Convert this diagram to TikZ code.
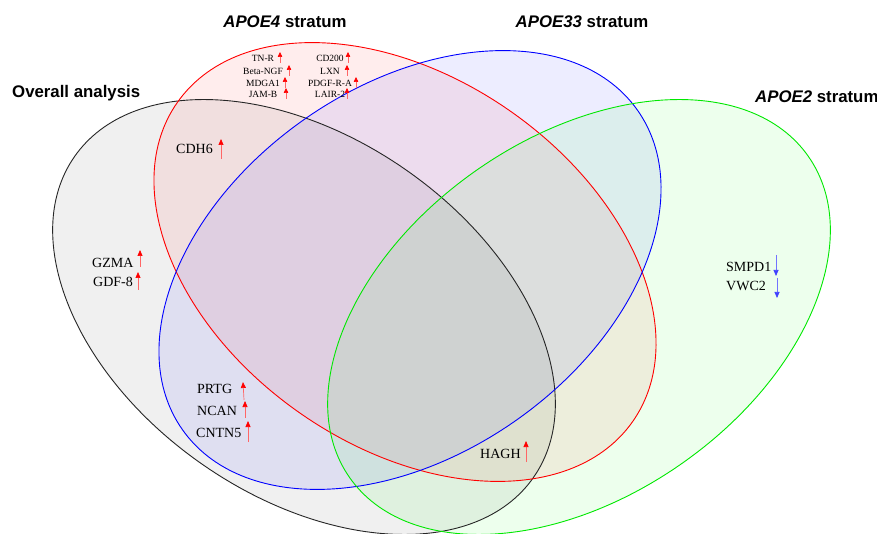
\documentclass[tikz,border=0pt]{standalone}
\usepackage{fontspec}
\setmainfont{Liberation Serif}
\newfontfamily\headfont{Liberation Sans}
\usetikzlibrary{arrows.meta}

\begin{document}
\begin{tikzpicture}[x=1pt, y=-1pt,
  gene/.style={font=\fontsize{14}{16}\selectfont, inner sep=0pt, anchor=west},
  tinygene/.style={font=\fontsize{9.5}{11}\selectfont, inner sep=0pt},
  stratum/.style={font=\headfont\bfseries\fontsize{16.8}{20}\selectfont, inner sep=0pt},
  uparr/.style={draw=red!60, line width=0.7pt, -{Triangle[width=5pt, length=6pt, color=red]}},
  tinyarr/.style={draw=red!60, line width=0.6pt, -{Triangle[width=4.5pt, length=5pt, color=red]}},
  downarr/.style={draw=blue!55, line width=0.7pt, -{Triangle[width=5pt, length=6pt, color=blue!75]}}]
  % Define colors
  \colorlet{overallline}{black!85}
  \colorlet{eline}{red}
  \colorlet{ethreeline}{blue}
  \colorlet{etwoline}{green!85!black!60!green}

  % Page frame
  \useasboundingbox (0,0) rectangle (877,534);
  \clip (0,0) rectangle (877,534);
  \fill[white] (0,0) rectangle (877,534);

  % Draw the shaded sets
  \fill[black, fill opacity=0.06] (304,317) ellipse [x radius=280pt, y radius=179pt, rotate=-35];
  \fill[red, fill opacity=0.07] (405,262) ellipse [x radius=278pt, y radius=184pt, rotate=-35];
  \fill[blue, fill opacity=0.07] (410,270) ellipse [x radius=278pt, y radius=184pt, rotate=35];
  \fill[green, fill opacity=0.07] (579,317) ellipse [x radius=280pt, y radius=179pt, rotate=35];

  % Outlines
  \draw[overallline, line width=0.9pt] (304,317) ellipse [x radius=280pt, y radius=179pt, rotate=-35];
  \draw[eline, line width=0.9pt] (405,262) ellipse [x radius=278pt, y radius=184pt, rotate=-35];
  \draw[ethreeline, line width=0.9pt] (410,270) ellipse [x radius=278pt, y radius=184pt, rotate=35];
  \draw[etwoline, line width=0.9pt] (579,317) ellipse [x radius=280pt, y radius=179pt, rotate=35];

  % Set titles
  \node[stratum] (apoefour) at (285,22) {\textit{APOE4} stratum};
  \node[stratum] (apoethreethree) at (582,22) {\textit{APOE33} stratum};
  \node[stratum, anchor=west] (overall) at (12,93) {Overall analysis};
  \node[stratum, anchor=west] (apoetwo) at (755,97) {\textit{APOE2} stratum};

  % APOE4 only
  \node[tinygene] (tnr) at (263,58) {TN-R};
  \node[tinygene] (betangf) at (263,71) {Beta-NGF};
  \node[tinygene] (mdga) at (263,83) {MDGA1};
  \node[tinygene] (jamb) at (263,94) {JAM-B};
  \node[tinygene] (cdtwo) at (330,58) {CD200};
  \node[tinygene] (lxn) at (330,71) {LXN};
  \node[tinygene] (pdgfra) at (330,83) {PDGF-R-A};
  \node[tinygene] (lair) at (330,94) {LAIR-2};
  \draw[tinyarr] (280,63) -- (280,52);
  \draw[tinyarr] (289,76) -- (289,65);
  \draw[tinyarr] (285,88) -- (285,77);
  \draw[tinyarr] (286,99) -- (286,88);
  \draw[tinyarr] (348,63) -- (348,52);
  \draw[tinyarr] (347,76) -- (347,65);
  \draw[tinyarr] (356,88) -- (356,77);
  \draw[tinyarr] (347,99) -- (347,88);

  % Overall and APOE4
  \node[gene] (cdh) at (176,149) {CDH6};
  \draw[uparr] (221,159) -- (221,139);

  % Overall only
  \node[gene] (gzma) at (92,263) {GZMA};
  \node[gene] (gdf) at (93,282) {GDF-8};
  \draw[uparr] (140,267) -- (140,250);
  \draw[uparr] (138,290) -- (138,272);

  % Overall and APOE33
  \node[gene] (prtg) at (197,389) {PRTG};
  \node[gene] (ncan) at (197,411) {NCAN};
  \node[gene] (cntn) at (196,433) {CNTN5};
  \draw[uparr] (244,400) -- (243,382);
  \draw[uparr] (245,418) -- (245,401);
  \draw[uparr] (248,442) -- (248,421);

  % Overall, APOE4 and APOE2
  \node[gene] (hagh) at (480,454) {HAGH};
  \draw[uparr] (526,462) -- (526,441);

  % APOE2 only
  \node[gene] (smpd) at (726,267) {SMPD1};
  \node[gene] (vwc) at (726,286) {VWC2};
  \draw[downarr] (776,255) -- (776,276);
  \draw[downarr] (777,278) -- (777,298);
\end{tikzpicture}
\end{document}
